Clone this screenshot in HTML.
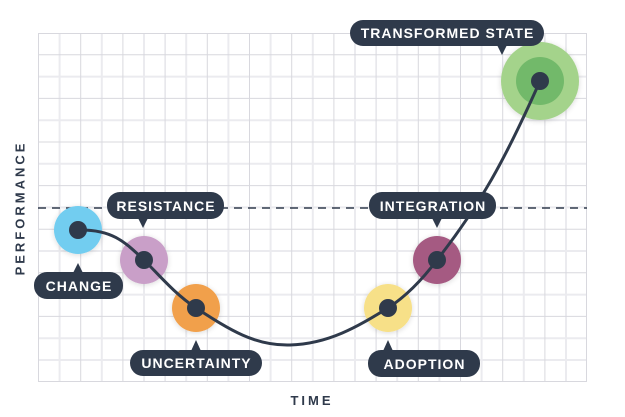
<!DOCTYPE html>
<html><head><meta charset="utf-8"><style>
html,body{margin:0;padding:0;background:#fff;}
svg{display:block;}
text{font-family:"Liberation Sans",sans-serif;font-weight:bold;fill:#fff;}
</style></head><body>
<svg width="625" height="417" viewBox="0 0 625 417" xmlns="http://www.w3.org/2000/svg">
<defs>
<filter id="sh" x="-50%" y="-50%" width="200%" height="200%"><feGaussianBlur in="SourceAlpha" stdDeviation="3"/><feOffset dy="1"/><feComponentTransfer><feFuncA type="linear" slope="0.15"/></feComponentTransfer><feMerge><feMergeNode/><feMergeNode in="SourceGraphic"/></feMerge></filter>
</defs>
<g stroke="#ebebef" stroke-width="2">
<line x1="59.6" y1="33" x2="59.6" y2="382"/><line x1="101.8" y1="33" x2="101.8" y2="382"/><line x1="144" y1="33" x2="144" y2="382"/><line x1="186.2" y1="33" x2="186.2" y2="382"/><line x1="228.4" y1="33" x2="228.4" y2="382"/><line x1="270.6" y1="33" x2="270.6" y2="382"/><line x1="312.8" y1="33" x2="312.8" y2="382"/><line x1="355" y1="33" x2="355" y2="382"/><line x1="397.2" y1="33" x2="397.2" y2="382"/><line x1="439.4" y1="33" x2="439.4" y2="382"/><line x1="481.6" y1="33" x2="481.6" y2="382"/><line x1="523.8" y1="33" x2="523.8" y2="382"/><line x1="566" y1="33" x2="566" y2="382"/>
<line x1="38" y1="76.6" x2="587" y2="76.6"/><line x1="38" y1="120.2" x2="587" y2="120.2"/><line x1="38" y1="163.8" x2="587" y2="163.8"/><line x1="38" y1="207.4" x2="587" y2="207.4"/><line x1="38" y1="251" x2="587" y2="251"/><line x1="38" y1="294.6" x2="587" y2="294.6"/><line x1="38" y1="338.2" x2="587" y2="338.2"/><line x1="38" y1="360" x2="587" y2="360"/>
</g>
<g stroke="#d8d8de" stroke-width="1">
<line x1="38.5" y1="33" x2="38.5" y2="382"/><line x1="80.7" y1="33" x2="80.7" y2="382"/><line x1="122.9" y1="33" x2="122.9" y2="382"/><line x1="165.1" y1="33" x2="165.1" y2="382"/><line x1="207.3" y1="33" x2="207.3" y2="382"/><line x1="249.5" y1="33" x2="249.5" y2="382"/><line x1="291.7" y1="33" x2="291.7" y2="382"/><line x1="333.9" y1="33" x2="333.9" y2="382"/><line x1="376.1" y1="33" x2="376.1" y2="382"/><line x1="418.3" y1="33" x2="418.3" y2="382"/><line x1="460.5" y1="33" x2="460.5" y2="382"/><line x1="502.7" y1="33" x2="502.7" y2="382"/><line x1="544.9" y1="33" x2="544.9" y2="382"/><line x1="586.5" y1="33" x2="586.5" y2="382"/>
<line x1="38" y1="33.5" x2="587" y2="33.5"/><line x1="38" y1="54.8" x2="587" y2="54.8"/><line x1="38" y1="98.4" x2="587" y2="98.4"/><line x1="38" y1="142" x2="587" y2="142"/><line x1="38" y1="185.6" x2="587" y2="185.6"/><line x1="38" y1="229.2" x2="587" y2="229.2"/><line x1="38" y1="272.8" x2="587" y2="272.8"/><line x1="38" y1="316.4" x2="587" y2="316.4"/><line x1="38" y1="381.5" x2="587" y2="381.5"/>
</g>
<line x1="38" y1="208" x2="587" y2="208" stroke="#2f3a4b" stroke-width="1.5" stroke-dasharray="8,6"/>
<text x="20" y="208" transform="rotate(-90 20 208)" text-anchor="middle" dominant-baseline="central" font-size="13" letter-spacing="3" style="fill:#2f3a4b">PERFORMANCE</text>
<text x="312" y="405" text-anchor="middle" font-size="13" letter-spacing="3" style="fill:#2f3a4b">TIME</text>
<g filter="url(#sh)">
<circle cx="78" cy="230" r="24" fill="#72cdf0"/>
<circle cx="144" cy="260" r="24" fill="#c99fc8"/>
<circle cx="196" cy="308" r="24" fill="#f1a04c"/>
<circle cx="388" cy="308" r="24" fill="#f7e088"/>
<circle cx="437" cy="260" r="24" fill="#a55a82"/>
<circle cx="540" cy="81" r="39" fill="#a4d38b"/>
</g>
<circle cx="540" cy="81" r="24" fill="#72b96a"/>
<path d="M78,230 C112,229 125,242 144,260 C160,276 175,294 196,308 C230,330 255,346 290,345 C330,344 360,325 388,308 C408,295 425,276 437,260 C480,205 505,160 540,81" fill="none" stroke="#2f3a4b" stroke-width="3"/>
<g fill="#2f3a4b">
<circle cx="78" cy="230" r="9"/><circle cx="144" cy="260" r="9"/><circle cx="196" cy="308" r="9"/>
<circle cx="388" cy="308" r="9"/><circle cx="437" cy="260" r="9"/><circle cx="540" cy="81" r="9"/>
<rect x="350" y="20" width="194" height="26" rx="13"/><path d="M497,45 L502,55 L507,45Z"/>
<rect x="34" y="272" width="89" height="27" rx="13"/><path d="M73,273 L78,263 L83,273Z"/>
<rect x="107" y="192" width="117" height="27" rx="13"/><path d="M138,218 L143,228 L148,218Z"/>
<rect x="130" y="350" width="132" height="26" rx="13"/><path d="M191,351 L196,340 L201,351Z"/>
<rect x="368" y="350" width="112" height="27" rx="13"/><path d="M383,351 L388,340 L393,351Z"/>
<rect x="369" y="192" width="127" height="27" rx="13"/><path d="M432,218 L437,228 L442,218Z"/>
</g>
<g font-size="14" letter-spacing="1" text-anchor="middle">
<text x="447.5" y="38">TRANSFORMED STATE</text>
<text x="79" y="291">CHANGE</text>
<text x="166" y="211">RESISTANCE</text>
<text x="196.5" y="368">UNCERTAINTY</text>
<text x="424.5" y="369">ADOPTION</text>
<text x="433" y="211">INTEGRATION</text>
</g>
</svg>
</body></html>
